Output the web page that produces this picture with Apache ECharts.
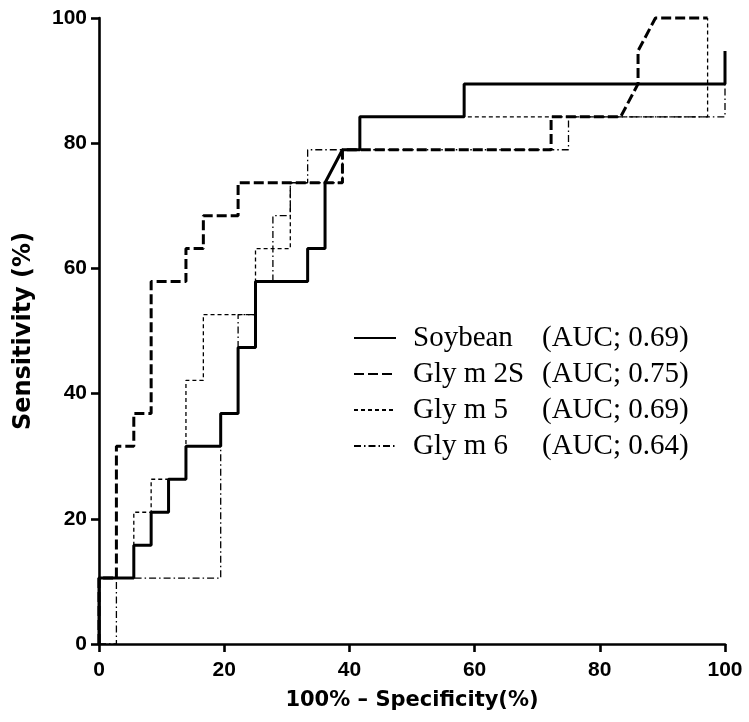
<!DOCTYPE html>
<html>
<head>
<meta charset="utf-8">
<script src="https://cdn.jsdelivr.net/npm/echarts@6/dist/echarts.min.js"></script>
<style>html,body{margin:0;padding:0;background:#fff;}#c{width:749px;height:722px;}</style>
</head>
<body>
<div id="c"></div>
<script>
// Data: [100% - specificity, sensitivity]
const soybean = [[0,0],[0,10.53],[5.56,10.53],[5.56,15.79],[8.33,15.79],[8.33,21.05],[11.11,21.05],[11.11,26.32],[13.89,26.32],[13.89,31.58],[19.44,31.58],[19.44,36.84],[22.22,36.84],[22.22,47.37],[25,47.37],[25,57.89],[33.33,57.89],[33.33,63.16],[36.11,63.16],[36.11,73.68],[38.89,78.95],[41.67,78.95],[41.67,84.21],[58.33,84.21],[58.33,89.47],[100,89.47],[100,94.74]];
const glym2s = [[0,0],[0,10.53],[2.78,10.53],[2.78,31.58],[5.56,31.58],[5.56,36.84],[8.33,36.84],[8.33,57.89],[13.89,57.89],[13.89,63.16],[16.67,63.16],[16.67,68.42],[22.22,68.42],[22.22,73.68],[38.89,73.68],[38.89,78.95],[72.22,78.95],[72.22,84.21],[83.33,84.21],[86.11,89.47],[86.11,94.74],[88.89,100],[97.22,100]];
const glym5 = [[0,0],[0,10.53],[5.56,10.53],[5.56,21.05],[8.33,21.05],[8.33,26.32],[13.89,26.32],[13.89,42.11],[16.67,42.11],[16.67,52.63],[25,52.63],[25,63.16],[30.56,63.16],[30.56,73.68],[38.89,73.68],[38.89,78.95],[41.67,78.95],[41.67,84.21],[97.22,84.21],[97.22,100]];
const glym6 = [[0,0],[2.78,0],[2.78,10.53],[19.44,10.53],[19.44,36.84],[22.22,36.84],[22.22,52.63],[25,52.63],[25,57.89],[27.78,57.89],[27.78,68.42],[30.56,68.42],[30.56,73.68],[33.33,73.68],[33.33,78.95],[75,78.95],[75,84.21],[100,84.21],[100,89.47]];
const seriesNames = ['Soybean','Gly m 2S','Gly m 5','Gly m 6'];
const aucLabels = ['(AUC; 0.69)','(AUC; 0.75)','(AUC; 0.69)','(AUC; 0.64)'];
const xTicks = [0,20,40,60,80,100];
const yTicks = [0,20,40,60,80,100];

const chart = echarts.init(document.getElementById('c'), null, {renderer:'canvas'});
const axisCommon = {
  type:'value', min:0, max:100, interval:20,
  axisLine:{show:true, lineStyle:{color:'#000', width:2.6}},
  axisTick:{show:true, length:8, lineStyle:{color:'#000', width:2.6}},
  splitLine:{show:false},
  nameLocation:'middle'
};
const hidden = {color:'rgba(0,0,0,0)', borderWidth:0};
chart.setOption({
  animation:false,
  backgroundColor:'#fff',
  color:['#000','#000','#000','#000'],
  grid:{left:99, right:24, top:18, bottom:78, containLabel:false},
  xAxis: Object.assign({}, axisCommon, {
    name:'100% \u2013 Specificity(%)', nameGap:46,
    nameTextStyle:{fontFamily:'DejaVu Sans', fontWeight:'bold', color:'#000', fontSize:21},
    axisLabel:{margin:16, fontFamily:'Liberation Sans', fontWeight:'bold', fontSize:21, color:'#000',
      formatter:v=> xTicks.indexOf(v)>=0 ? String(v) : ''}
  }),
  yAxis: Object.assign({}, axisCommon, {
    name:'Sensitivity (%)', nameGap:63,
    nameTextStyle:{fontFamily:'DejaVu Sans', fontWeight:'bold', color:'#000', fontSize:24},
    axisLabel:{margin:12, fontFamily:'Liberation Sans', fontWeight:'bold', fontSize:21, color:'#000',
      formatter:v=> yTicks.indexOf(v)>=0 ? String(v) : ''}
  }),
  legend:{
    orient:'vertical', left:348, top:315, itemWidth:42, itemHeight:14, itemGap:0,
    data:seriesNames,
    itemStyle:{opacity:0},
    formatter:function(name){ const i=seriesNames.indexOf(name); return '{a|'+name+'}{b|'+aucLabels[i]+'}'; },
    textStyle:{fontFamily:'Liberation Serif', fontSize:29, color:'#000', lineHeight:36,
      rich:{a:{fontFamily:'Liberation Serif', fontSize:29, color:'#000', width:129, padding:[0,0,0,12], lineHeight:36},
            b:{fontFamily:'Liberation Serif', fontSize:29, color:'#000', lineHeight:36}}}
  },
  series:[
    {name:'Gly m 6', type:'line', data:glym6, symbol:'none', clip:false, z:2, itemStyle:hidden,
     lineStyle:{color:'#000', width:1.3, type:[7,3,1.5,3]}},
    {name:'Gly m 5', type:'line', data:glym5, symbol:'none', clip:false, z:3, itemStyle:hidden,
     lineStyle:{color:'#000', width:1.3, type:[4,3]}},
    {name:'Gly m 2S', type:'line', data:glym2s, symbol:'none', clip:false, z:4, itemStyle:hidden,
     lineStyle:{color:'#000', width:3, type:[10,4]}},
    {name:'Soybean', type:'line', data:soybean, symbol:'none', clip:false, z:5, itemStyle:hidden,
     lineStyle:{color:'#000', width:3, type:'solid'}}
  ]
});
</script>
</body>
</html>
